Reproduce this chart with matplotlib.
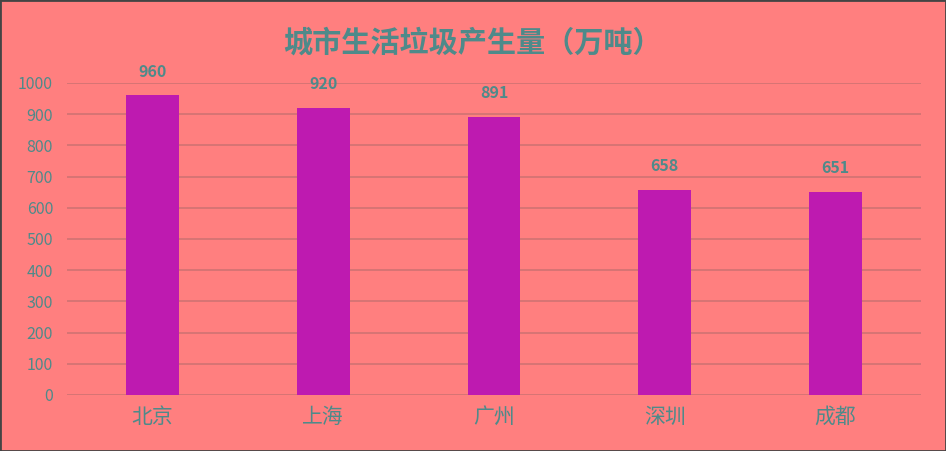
import numpy as np
import matplotlib
matplotlib.use('Agg')
from matplotlib import pyplot as plt

plt.rcParams['font.family'] = ['Noto Sans CJK SC', 'DejaVu Sans']

cities = ['北京', '上海', '广州', '深圳', '成都']
waste = [960, 920, 891, 658, 651]
yticks = np.arange(0, 1001, 100)

bg = '#FF7F7F'
bar_color = '#BE1AB0'
text_color = '#4E8A8A'
grid_color = '#D07272'

fig = plt.figure(figsize=(9.46, 4.51), dpi=100, facecolor=bg)
ax = fig.add_axes([0.0708, 0.1242, 0.9028, 0.6918])
ax.set_facecolor(bg)

x = np.arange(len(cities))
ax.bar(x, waste, width=0.31, color=bar_color, zorder=3)
for xi, v in zip(x, waste):
    ax.text(xi, v + 76, str(v), ha='center', va='center', fontsize=11.5,
            fontweight='bold', color=text_color, clip_on=False)

ax.set_xlim(-0.5, len(cities) - 0.5)
ax.set_ylim(0, 1000)
ax.set_yticks(yticks)
ax.set_yticklabels([str(t) for t in yticks], fontsize=11.5, color=text_color)
ax.set_xticks(x)
ax.set_xticklabels(cities, fontsize=15, color=text_color)
ax.tick_params(length=0, axis='y', pad=10)
ax.tick_params(length=0, axis='x', pad=8)
ax.grid(axis='y', color=grid_color, linewidth=1.2, zorder=0)
for s in ax.spines.values():
    s.set_visible(False)

fig.text(0.5, 0.905, '城市生活垃圾产生量（万吨）', ha='center', va='center',
         fontsize=21, fontweight='bold', color=text_color)

fig.patches.append(plt.Rectangle((0, 0), 1, 1, transform=fig.transFigure,
                                 fill=False, edgecolor='#444444', linewidth=2))

plt.savefig('out.png', dpi=100, facecolor=bg)
